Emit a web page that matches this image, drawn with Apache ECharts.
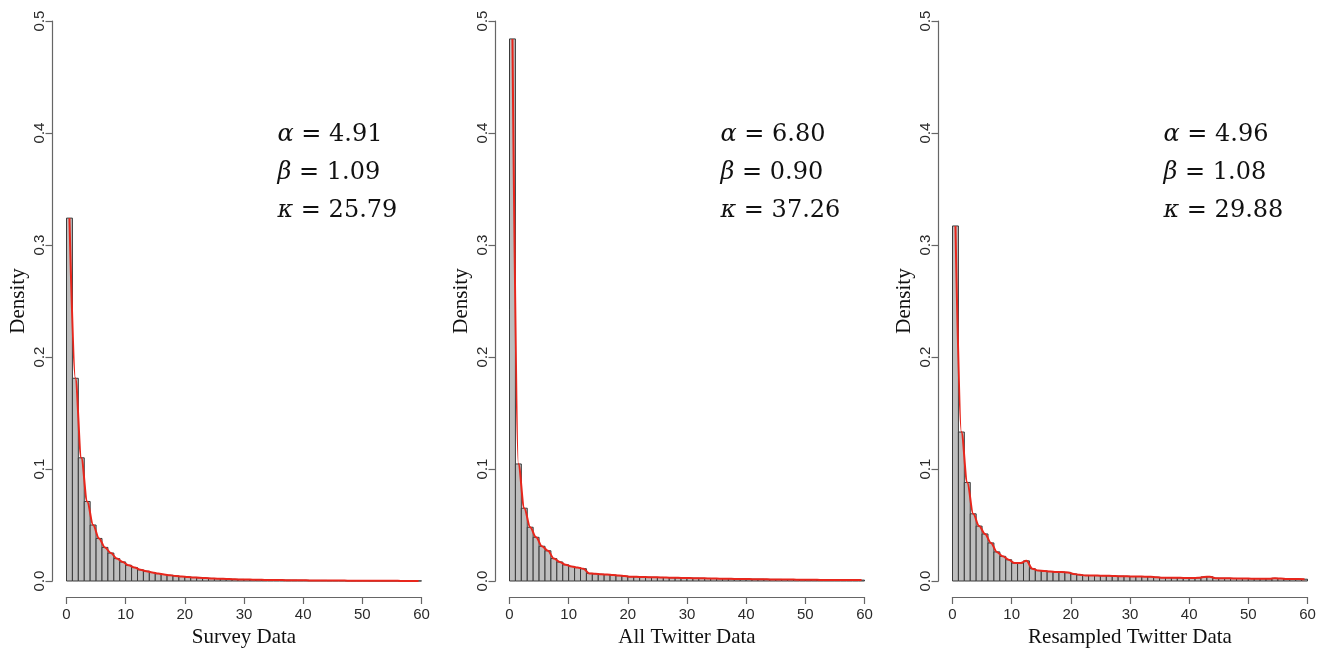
<!DOCTYPE html>
<html>
<head>
<meta charset="utf-8">
<script src="https://cdn.jsdelivr.net/npm/echarts@6/dist/echarts.min.js"></script>
<style>
  html, body { margin: 0; padding: 0; background: #ffffff; }
  #chart { width: 1328px; height: 648px; }
</style>
</head>
<body>
<div id="chart"></div>
<script>
// Histogram densities, one value per unit-width bin [i-1, i), i = 1..60
const binStart = 0;
const binWidth = 1;

const surveyDensity = [
  0.324, 0.181, 0.110, 0.071, 0.050, 0.038, 0.030, 0.025, 0.020, 0.017,
  0.014, 0.012, 0.010, 0.0088, 0.0076, 0.0066, 0.0058, 0.0051, 0.0045, 0.0040,
  0.0036, 0.0032, 0.0029, 0.0026, 0.0023, 0.0021, 0.0019, 0.0017, 0.0015, 0.0014,
  0.0013, 0.0012, 0.0011, 0.0010, 0.0009, 0.0008, 0.0008, 0.0007, 0.0007, 0.0006,
  0.0006, 0.0005, 0.0005, 0.0005, 0.0004, 0.0004, 0.0004, 0.0003, 0.0003, 0.0003,
  0.0003, 0.0002, 0.0002, 0.0002, 0.0002, 0.0002, 0.0001, 0.0001, 0.0001, 0.0001
];

const allTwitterDensity = [
  0.484, 0.1045, 0.065, 0.048, 0.039, 0.031, 0.027, 0.020, 0.017, 0.0145,
  0.013, 0.012, 0.011, 0.0068, 0.0064, 0.0060, 0.0057, 0.0053, 0.0048, 0.0044,
  0.0038, 0.0037, 0.0036, 0.0034, 0.0033, 0.0032, 0.0031, 0.0029, 0.0028, 0.0027,
  0.0026, 0.0025, 0.0024, 0.0023, 0.0022, 0.0021, 0.0020, 0.0019, 0.0018, 0.0018,
  0.0017, 0.0016, 0.0016, 0.0015, 0.0014, 0.0014, 0.0013, 0.0013, 0.0012, 0.0012,
  0.0011, 0.0011, 0.0010, 0.0010, 0.0010, 0.0009, 0.0009, 0.0009, 0.0008, 0.0008
];

const resampledDensity = [
  0.317, 0.133, 0.088, 0.060, 0.049, 0.042, 0.034, 0.026, 0.022, 0.019,
  0.016, 0.016, 0.018, 0.011, 0.0093, 0.0090, 0.0085, 0.0080, 0.0080, 0.0077,
  0.0063, 0.0055, 0.0050, 0.0049, 0.0048, 0.0047, 0.0046, 0.0044, 0.0043, 0.0042,
  0.0040, 0.0040, 0.0039, 0.0038, 0.0034, 0.0030, 0.0029, 0.0028, 0.0028, 0.0027,
  0.0027, 0.0028, 0.0036, 0.0038, 0.0025, 0.0024, 0.0024, 0.0023, 0.0022, 0.0022,
  0.0021, 0.0021, 0.0020, 0.0020, 0.0024, 0.0022, 0.0018, 0.0018, 0.0017, 0.0016
];

const panelTitles = ['Survey Data', 'All Twitter Data', 'Resampled Twitter Data'];
const xTicks = [0, 10, 20, 30, 40, 50, 60];
const yTicks = ['0.0', '0.1', '0.2', '0.3', '0.4', '0.5'];

// Fitted parameters printed in each panel
const alphaValues = ['4.91', '6.80', '4.96'];
const betaValues = ['1.09', '0.90', '1.08'];
const kappaValues = ['25.79', '37.26', '29.88'];

const panels = [surveyDensity, allTwitterDensity, resampledDensity];

const chart = echarts.init(document.getElementById('chart'), null, { renderer: 'canvas' });

const PANEL_LEFT = 66.5;
const PANEL_STEP = 443;
const PANEL_W = 355;
const PLOT_TOP = 21;
const PLOT_H = 560;

const axisColor = '#666666';
const labelColor = '#2a2a2a';

const grids = [], xAxes = [], yAxes = [], series = [], graphics = [];

panels.forEach(function (dens, k) {
  const left = PANEL_LEFT + PANEL_STEP * k;
  grids.push({
    left: left, top: PLOT_TOP, width: PANEL_W, height: PLOT_H,
    containLabel: false, outerBoundsMode: 'none'
  });

  xAxes.push({
    gridIndex: k, type: 'value', min: xTicks[0], max: xTicks[xTicks.length - 1], interval: 10,
    offset: 16,
    name: panelTitles[k], nameLocation: 'middle', nameGap: 22,
    nameTextStyle: { fontFamily: 'Liberation Serif', fontSize: 21, color: '#111' },
    axisLine: { show: true, onZero: false, lineStyle: { color: axisColor, width: 1.2 } },
    axisTick: { show: true, length: 7, lineStyle: { color: axisColor, width: 1.2 } },
    axisLabel: { margin: 10, fontFamily: 'Liberation Sans', fontSize: 15, color: labelColor, showMinLabel: true, showMaxLabel: true },
    splitLine: { show: false }
  });

  yAxes.push({
    gridIndex: k, type: 'value', min: 0, max: 0.5, interval: 0.1,
    offset: 14,
    name: 'Density', nameLocation: 'middle', nameGap: 24,
    nameTextStyle: { fontFamily: 'Liberation Serif', fontSize: 21, color: '#111' },
    axisLine: { show: true, onZero: false, lineStyle: { color: axisColor, width: 1.2 } },
    axisTick: { show: true, length: 7, lineStyle: { color: axisColor, width: 1.2 } },
    axisLabel: {
      rotate: 90, margin: 5, fontFamily: 'Liberation Sans', fontSize: 15, color: labelColor,
      formatter: function (v) { return yTicks[Math.round(v * 10)]; }
    },
    splitLine: { show: false }
  });

  // histogram bars: [binLeft, binRight, density]
  const barData = dens.map(function (d, i) {
    return [binStart + i * binWidth, binStart + (i + 1) * binWidth, d];
  });
  series.push({
    type: 'custom', xAxisIndex: k, yAxisIndex: k,
    data: barData,
    renderItem: function (params, api) {
      const p0 = api.coord([api.value(0), api.value(2)]);
      const p1 = api.coord([api.value(1), 0]);
      return {
        type: 'rect',
        shape: { x: p0[0], y: p0[1], width: p1[0] - p0[0], height: p1[1] - p0[1] },
        style: { fill: '#bebebe', stroke: '#3a3a3a', lineWidth: 1 }
      };
    },
    silent: true, z: 2
  });

  // density curve through bin midpoints
  series.push({
    type: 'line', xAxisIndex: k, yAxisIndex: k,
    data: dens.map(function (d, i) { return [binStart + (i + 0.5) * binWidth, d]; }),
    smooth: 0.35, smoothMonotone: 'x',
    showSymbol: false, symbol: 'none',
    lineStyle: { color: '#e8261c', width: 2 },
    silent: true, z: 3
  });

  graphics.push({
    type: 'text', left: left + 211, top: 116,
    style: {
      text: '{g|α} = ' + alphaValues[k] + '\n{g|β} = ' + betaValues[k] + '\n{g|κ} = ' + kappaValues[k],
      fontFamily: 'DejaVu Serif', fontSize: 24, lineHeight: 38, fill: '#111',
      rich: { g: { fontFamily: 'DejaVu Serif', fontStyle: 'italic', fontSize: 24, lineHeight: 38, fill: '#111' } }
    }
  });
});

chart.setOption({
  animation: false,
  backgroundColor: '#ffffff',
  grid: grids, xAxis: xAxes, yAxis: yAxes, series: series,
  graphic: graphics
});
</script>
</body>
</html>
